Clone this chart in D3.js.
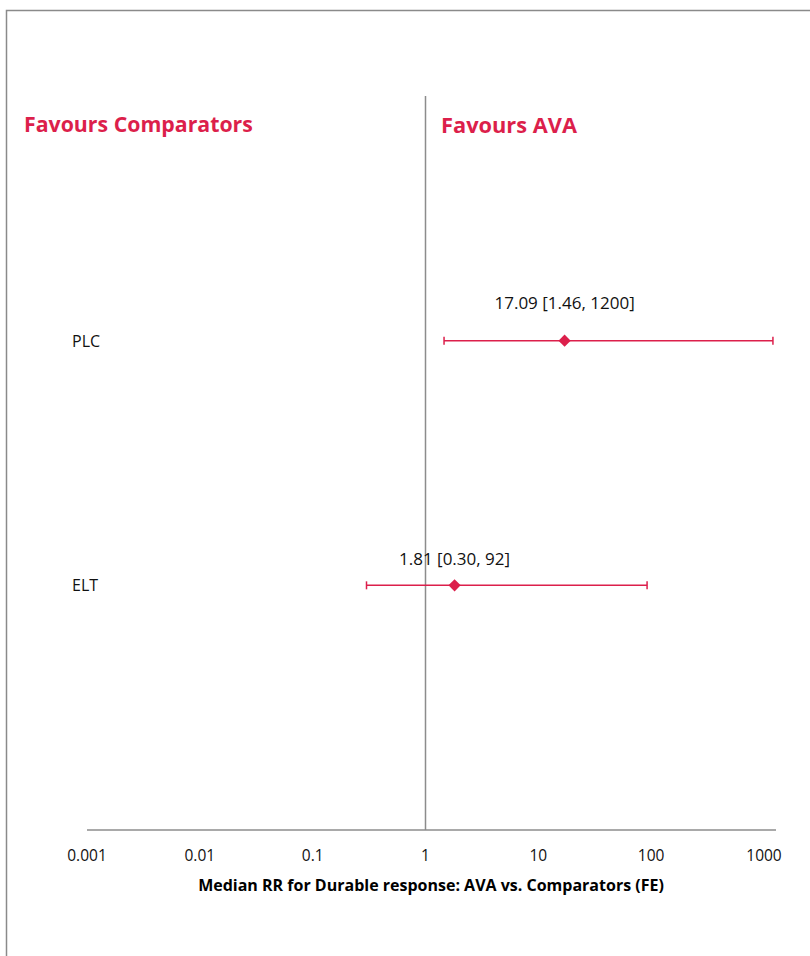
<!DOCTYPE html>
<html lang="en">
<head>
  <meta charset="utf-8">
  <title>Forest plot</title>
  <script src="https://cdnjs.cloudflare.com/ajax/libs/d3/7.8.5/d3.min.js"></script>
  <style>
    body { margin: 0; background: #fff; }
    text { font-family: "Open Sans", "Noto Sans", sans-serif; }
  </style>
</head>
<body>
  <svg id="svg"></svg>
  <script>
    // data
    var categories = ["PLC", "ELT"];
    var estimates = [17.09, 1.81];
    var lower = [1.46, 0.30];
    var upper = [1200, 92];
    var labels = ["17.09 [1.46, 1200]", "1.81 [0.30, 92]"];
    var tickValues = [0.001, 0.01, 0.1, 1, 10, 100, 1000];
    var tickLabels = ["0.001", "0.01", "0.1", "1", "10", "100", "1000"];

    var W = 810, H = 956;
    var red = "#dc1f4b";

    var svg = d3.select("#svg").attr("width", W).attr("height", H);

    // outer frame (runs off the right and bottom edge)
    svg.append("rect")
      .attr("x", 6.5).attr("y", 10.5)
      .attr("width", W).attr("height", H)
      .attr("fill", "none").attr("stroke", "#8a8a8a").attr("stroke-width", 1.5);

    var xScale = d3.scaleLog()
      .domain([0.001, 1000])
      .range([87, 764]);

    var yScale = d3.scalePoint()
      .domain(categories)
      .range([96, 830])
      .padding(1);

    // x axis line
    svg.append("line")
      .attr("x1", 87).attr("x2", 776)
      .attr("y1", 830).attr("y2", 830)
      .attr("stroke", "#8c8c8c").attr("stroke-width", 1.5);

    // tick labels
    svg.selectAll(".tick")
      .data(tickValues)
      .enter().append("text")
      .attr("class", "tick")
      .attr("x", function (d) { return xScale(d); })
      .attr("y", 861)
      .attr("text-anchor", "middle")
      .attr("font-size", 15.5)
      .attr("fill", "#111")
      .text(function (d, i) { return tickLabels[i]; });

    // axis title
    svg.append("text")
      .attr("x", 431).attr("y", 891)
      .attr("text-anchor", "middle")
      .attr("font-size", 16)
      .attr("font-weight", "bold")
      .attr("fill", "#000")
      .text("Median RR for Durable response: AVA vs. Comparators (FE)");

    // reference line at 1
    svg.append("line")
      .attr("x1", xScale(1)).attr("x2", xScale(1))
      .attr("y1", 96).attr("y2", 830)
      .attr("stroke", "#8c8c8c").attr("stroke-width", 1.5);

    // favours labels
    svg.append("text")
      .attr("x", 24).attr("y", 132)
      .attr("font-size", 21.3).attr("font-weight", "bold")
      .attr("fill", red)
      .text("Favours Comparators");
    svg.append("text")
      .attr("x", 441).attr("y", 133)
      .attr("font-size", 21.8).attr("font-weight", "bold")
      .attr("fill", red)
      .text("Favours AVA");

    // category labels
    svg.selectAll(".cat")
      .data(categories)
      .enter().append("text")
      .attr("class", "cat")
      .attr("x", 72)
      .attr("y", function (d) { return yScale(d) + 6; })
      .attr("font-size", 16)
      .attr("fill", "#111")
      .text(function (d) { return d; });

    var rows = categories.map(function (c, i) {
      return { cat: c, est: estimates[i], lo: lower[i], hi: upper[i], label: labels[i] };
    });

    var g = svg.selectAll(".row").data(rows).enter().append("g").attr("class", "row");

    // CI line
    g.append("line")
      .attr("x1", function (d) { return xScale(d.lo); })
      .attr("x2", function (d) { return xScale(d.hi); })
      .attr("y1", function (d) { return yScale(d.cat); })
      .attr("y2", function (d) { return yScale(d.cat); })
      .attr("stroke", red).attr("stroke-width", 1.5);

    // end caps
    ["lo", "hi"].forEach(function (k) {
      g.append("line")
        .attr("x1", function (d) { return xScale(d[k]); })
        .attr("x2", function (d) { return xScale(d[k]); })
        .attr("y1", function (d) { return yScale(d.cat) - 4; })
        .attr("y2", function (d) { return yScale(d.cat) + 4; })
        .attr("stroke", red).attr("stroke-width", 1.5);
    });

    // diamond marker
    g.append("path")
      .attr("d", d3.symbol().type(d3.symbolDiamond2).size(95))
      .attr("transform", function (d) {
        return "translate(" + xScale(d.est) + "," + yScale(d.cat) + ")";
      })
      .attr("fill", red);

    // value labels (first one sits a bit higher above its line)
    g.append("text")
      .attr("x", function (d) { return xScale(d.est); })
      .attr("y", function (d, i) { return yScale(d.cat) - (i === 0 ? 32 : 20); })
      .attr("text-anchor", "middle")
      .attr("font-size", 17)
      .attr("fill", "#111")
      .text(function (d) { return d.label; });
  </script>
</body>
</html>
